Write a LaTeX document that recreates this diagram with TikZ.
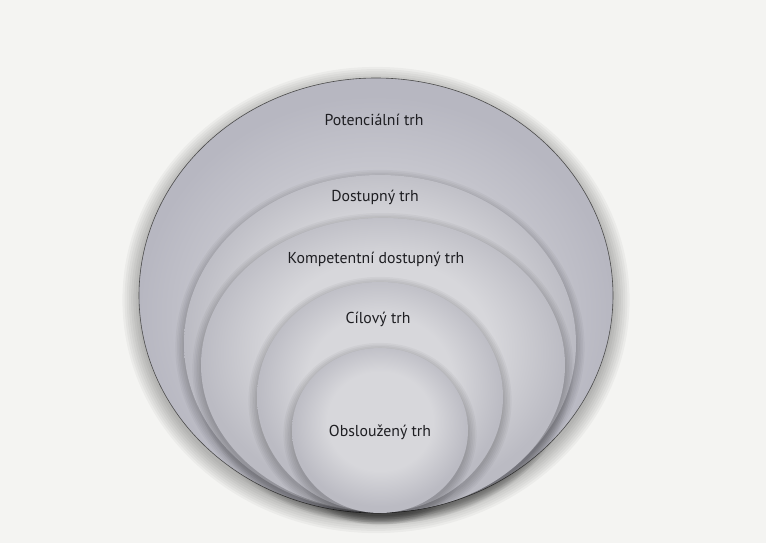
\documentclass[tikz,border=0pt]{standalone}
\usepackage{fontspec}
\setmainfont{PT Sans}
\definecolor{bgc}{HTML}{F4F4F2}
\definecolor{oc}{HTML}{D0D0D6}
\definecolor{oe}{HTML}{B7B7C1}
\definecolor{ic}{HTML}{D7D7DB}
\definecolor{ie}{HTML}{BBBBC3}
\definecolor{txt}{HTML}{1E1E22}
\pgfdeclareradialshading{outershade}{\pgfpoint{0bp}{-4bp}}{color(0bp)=(oc); color(12bp)=(oc); color(25bp)=(oe); color(50bp)=(oe)}
\pgfdeclareradialshading{innershade}{\pgfpoint{0bp}{4bp}}{color(0bp)=(ic); color(15bp)=(ic); color(25bp)=(ie); color(50bp)=(ie)}
\tikzset{
  lbl/.style={font=\fontsize{15.8}{18}\selectfont, text=txt, inner sep=0pt},
  shadowring/.style={fill=black, fill opacity=0.035},
}
\begin{document}
\begin{tikzpicture}[x=1pt,y=-1pt]
\useasboundingbox (0,0) rectangle (766,543);
\fill[bgc] (0,0) rectangle (766,543);
% outer ellipse halo
\foreach \k in {1,...,8}{
  \fill[shadowring] (376,300) ellipse [x radius={(236+2.2*\k)*1pt}, y radius={(215.5+2.2*\k)*1pt}];
}
\shade[shading=outershade] (376,295.5) ellipse [x radius=237pt, y radius=217.5pt];
\draw[black!70, line width=0.6pt] (376,295.5) ellipse [x radius=237pt, y radius=217.5pt];
% Dostupny trh
\foreach \k in {1,...,6}{
  \fill[shadowring] (380,347) ellipse [x radius={(195+1.6*\k)*1pt}, y radius={(167.5+1.6*\k)*1pt}];
}
\shade[shading=innershade] (380,343.5) ellipse [x radius=196pt, y radius=168.5pt];
% Kompetentni dostupny trh
\foreach \k in {1,...,6}{
  \fill[shadowring] (383,368.5) ellipse [x radius={(181+1.6*\k)*1pt}, y radius={(146+1.6*\k)*1pt}];
}
\shade[shading=innershade] (383,365) ellipse [x radius=182pt, y radius=147pt];
% Cilovy trh
\foreach \k in {1,...,6}{
  \fill[shadowring] (380,400.5) ellipse [x radius={(122+1.6*\k)*1pt}, y radius={(114+1.6*\k)*1pt}];
}
\shade[shading=innershade] (380,397) ellipse [x radius=123pt, y radius=115pt];
% Obslouzeny trh
\foreach \k in {1,...,6}{
  \fill[shadowring] (380,434) ellipse [x radius={(87+1.6*\k)*1pt}, y radius={(81.5+1.6*\k)*1pt}];
}
\shade[shading=innershade] (380,430.5) ellipse [x radius=88pt, y radius=82.5pt];
% labels
\node[lbl] (pot) at (374,120) {Potenciální trh};
\node[lbl] (dos) at (375,197) {Dostupný trh};
\node[lbl] (kom) at (376,259) {Kompetentní dostupný trh};
\node[lbl] (cil) at (378,319) {Cílový trh};
\node[lbl] (obs) at (380,432) {Obsloužený trh};
\end{tikzpicture}
\end{document}
